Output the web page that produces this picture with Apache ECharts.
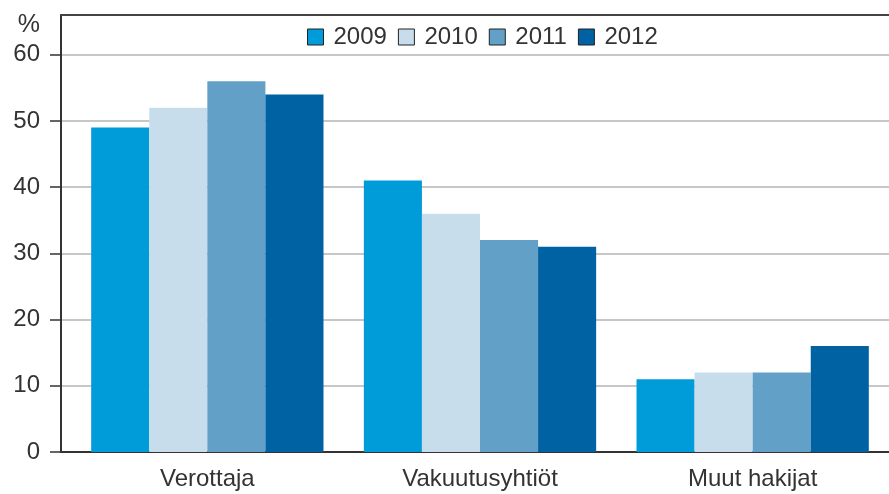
<!DOCTYPE html>
<html>
<head>
<meta charset="utf-8">
<script src="https://cdn.jsdelivr.net/npm/echarts@6/dist/echarts.min.js"></script>
<style>
  html, body { margin: 0; padding: 0; background: #fff; }
  #chart { width: 889px; height: 494px; }
</style>
</head>
<body>
<div id="chart"></div>
<script>
const categories = ['Verottaja', 'Vakuutusyhtiöt', 'Muut hakijat']
const years = ['2009', '2010', '2011', '2012']
const values2009 = [49, 41, 11]
const values2010 = [52, 36, 12]
const values2011 = [56, 32, 12]
const values2012 = [54, 31, 16]
const yTicks = [0, 10, 20, 30, 40, 50, 60]
const yMax = 66

const colors = ['#009bd9', '#c8ddeb', '#62a0c8', '#0062a2']
const font = 'Liberation Sans, Arial, sans-serif'
const textColor = '#333'

const chart = echarts.init(document.getElementById('chart'))

const seriesData = [values2009, values2010, values2011, values2012]

chart.setOption({
  backgroundColor: '#fff',
  animation: false,
  color: colors,
  title: {
    text: '%',
    right: 849,
    top: 13,
    padding: 0,
    textStyle: { fontFamily: font, fontSize: 25, fontWeight: 'normal', color: textColor }
  },
  legend: {
    data: years,
    top: 20,
    left: 302,
    icon: 'rect',
    itemWidth: 16,
    itemHeight: 16,
    itemGap: 11,
    itemStyle: { borderColor: '#222', borderWidth: 1 },
    textStyle: { fontFamily: font, fontSize: 24, color: textColor, padding: [0, 0, 0, 5] }
  },
  grid: [
    { left: 61, right: 0, top: 15, bottom: 42 },
    { left: 71, right: 0, top: 15, bottom: 42 }
  ],
  xAxis: [
    {
      type: 'value', gridIndex: 0, position: 'bottom', min: 0, max: 1,
      axisLine: { show: true, lineStyle: { color: '#333', width: 2 } },
      axisTick: { show: false }, axisLabel: { show: false }, splitLine: { show: false }
    },
    {
      type: 'value', gridIndex: 0, position: 'top', min: 0, max: 1,
      axisLine: { show: true, lineStyle: { color: '#444', width: 2 } },
      axisTick: { show: false }, axisLabel: { show: false }, splitLine: { show: false }
    },
    {
      type: 'category', gridIndex: 1, data: categories,
      axisLine: { show: false },
      axisTick: { show: false },
      axisLabel: { fontFamily: font, fontSize: 24, color: textColor, margin: 15 }
    }
  ],
  yAxis: [
    {
      type: 'value', gridIndex: 0, min: 0, max: yMax,
      axisLine: { show: true, lineStyle: { color: '#333', width: 2 } },
      axisTick: { show: true, length: 11, customValues: yTicks, lineStyle: { color: '#333', width: 1.5 } },
      axisLabel: { customValues: yTicks, fontFamily: font, fontSize: 24, color: textColor, margin: 21 },
      splitLine: { show: true, lineStyle: { color: '#b4b4b4', width: 1.5 } }
    },
    {
      type: 'value', gridIndex: 1, min: 0, max: yMax,
      show: false
    }
  ],
  series: years.map((y, i) => ({
    name: y,
    type: 'bar',
    xAxisIndex: 2,
    yAxisIndex: 1,
    barGap: '0%',
    barCategoryGap: '14.8%',
    itemStyle: { color: colors[i] },
    data: seriesData[i]
  }))
})
</script>
</body>
</html>
